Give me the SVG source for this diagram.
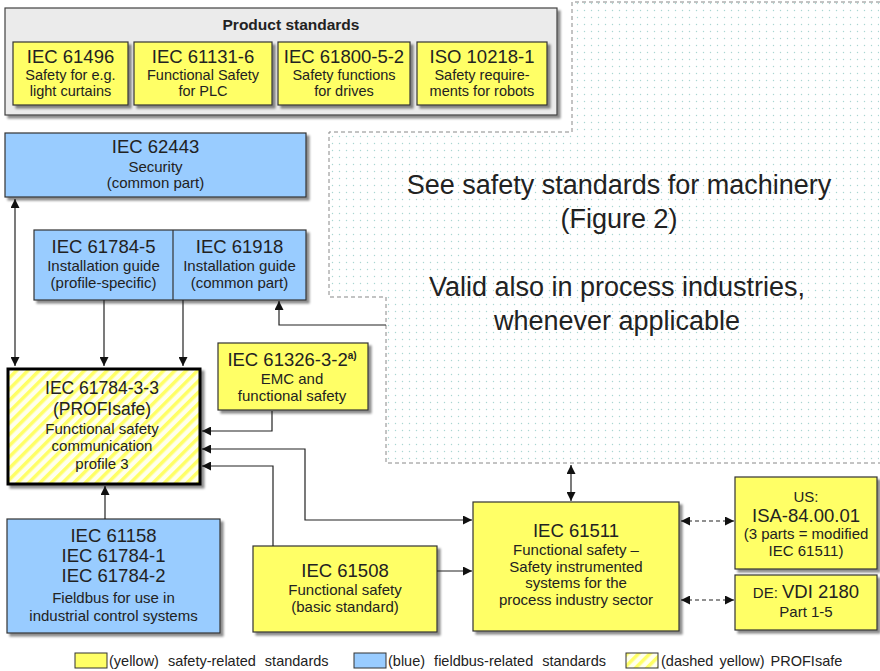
<svg xmlns="http://www.w3.org/2000/svg" width="880" height="671" viewBox="0 0 880 671">
<defs>
<style>
text{font-family:"Liberation Sans",Arial,sans-serif;fill:#222;text-anchor:middle}
.h{font-size:18.5px}
.s{font-size:15px}
.p{font-size:14.5px}
.big{font-size:27px}
.yel{fill:#ffff66;stroke:#333;stroke-width:1.2}
.blu{fill:#99ccff;stroke:#333;stroke-width:1.2}
.con{fill:none;stroke:#222;stroke-width:1.2}
.dash{fill:none;stroke:#222;stroke-width:1.2;stroke-dasharray:4,3}
.leg{font-size:14.5px;text-anchor:start;word-spacing:5px}
</style>
<filter id="sh" x="-10%" y="-10%" width="130%" height="130%">
<feDropShadow dx="3" dy="3" stdDeviation="1.2" flood-color="#000" flood-opacity="0.45"/>
</filter>
<pattern id="dots" width="7" height="7" patternUnits="userSpaceOnUse">
<rect width="7" height="7" fill="#ffffff"/>
<circle cx="3.5" cy="3.5" r="0.7" fill="#a9d6d2"/>
</pattern>
<pattern id="hatch" width="8" height="8" patternUnits="userSpaceOnUse" patternTransform="rotate(45)">
<rect width="8" height="8" fill="#ffffee"/>
<rect width="3.5" height="8" fill="#ffff66"/>
</pattern>
<marker id="ah" viewBox="0 0 10 10" refX="10" refY="5" markerWidth="9" markerHeight="9" markerUnits="userSpaceOnUse" orient="auto-start-reverse">
<path d="M0,0 L10,5 L0,10 Z" fill="#111"/>
</marker>
</defs>
<rect width="880" height="671" fill="#ffffff"/>

<g id="machinery">
<path d="M572,2 H879 V463 H386 V297 H329 V132 H572 Z" fill="url(#dots)" stroke="none"/>
<path d="M880,2 H572 V132 H329 V297 H386 V463 H880" fill="none" stroke="#888" stroke-width="1" stroke-dasharray="4,3"/>
<text class="big" x="619" y="194">See safety standards for machinery</text>
<text class="big" x="619" y="228">(Figure 2)</text>
<text class="big" x="617" y="296">Valid also in process industries,</text>
<text class="big" x="617" y="330">whenever applicable</text>
</g>

<g id="product-standards">
<rect x="5" y="8" width="552" height="107" fill="#ebebeb" stroke="#404040" stroke-width="1.2" filter="url(#sh)"/>
<text x="291" y="30" style="font-size:15.5px;font-weight:bold">Product standards</text>
</g>
<g id="iec61496">
<rect class="yel" x="13" y="42" width="115" height="63" filter="url(#sh)"/>
<text class="h" x="70.5" y="63">IEC 61496</text>
<text class="p" x="70.5" y="80">Safety for e.g.</text>
<text class="p" x="70.5" y="96">light curtains</text>
</g>
<g id="iec61131-6">
<rect class="yel" x="134" y="42" width="138" height="63" filter="url(#sh)"/>
<text class="h" x="203" y="63">IEC 61131-6</text>
<text class="p" x="203" y="80">Functional Safety</text>
<text class="p" x="203" y="96">for PLC</text>
</g>
<g id="iec61800-5-2">
<rect class="yel" x="278" y="42" width="132" height="63" filter="url(#sh)"/>
<text class="h" x="344" y="63">IEC 61800-5-2</text>
<text class="p" x="344" y="80">Safety functions</text>
<text class="p" x="344" y="96">for drives</text>
</g>
<g id="iso10218-1">
<rect class="yel" x="417" y="42" width="130" height="63" filter="url(#sh)"/>
<text class="h" x="482" y="63">ISO 10218-1</text>
<text class="p" x="482" y="80">Safety require-</text>
<text class="p" x="482" y="96">ments for robots</text>
</g>

<g id="iec62443">
<rect class="blu" x="5" y="133" width="301" height="64" filter="url(#sh)"/>
<text class="h" x="155.5" y="153">IEC 62443</text>
<text class="s" x="155.5" y="172">Security</text>
<text class="s" x="155.5" y="188">(common part)</text>
</g>

<g id="iec61784-5">
<rect class="blu" x="34" y="230" width="272" height="70" filter="url(#sh)"/>
<text class="h" x="103.5" y="253">IEC 61784-5</text>
<text class="s" x="103.5" y="271">Installation guide</text>
<text class="s" x="103.5" y="288">(profile-specific)</text>
</g>
<g id="iec61918">
<line x1="173" y1="230" x2="173" y2="300" stroke="#333" stroke-width="1.2"/>
<text class="h" x="239.5" y="253">IEC 61918</text>
<text class="s" x="239.5" y="271">Installation guide</text>
<text class="s" x="239.5" y="288">(common part)</text>
</g>

<g id="iec61326-3-2">
<rect class="yel" x="218" y="343" width="150" height="67" filter="url(#sh)"/>
<text class="h" x="292" y="366">IEC 61326-3-2<tspan style="font-size:10px;font-weight:bold" dy="-7">a)</tspan></text>
<text class="s" x="292" y="384">EMC and</text>
<text class="s" x="292" y="401">functional safety</text>
</g>

<g id="iec61784-3-3">
<rect x="8" y="369" width="192" height="115" fill="url(#hatch)" stroke="#000" stroke-width="3" filter="url(#sh)"/>
<text x="102" y="394" style="font-size:17.5px">IEC 61784-3-3</text>
<text x="102" y="415" style="font-size:17.5px">(PROFIsafe)</text>
<text class="s" x="102" y="434">Functional safety</text>
<text class="s" x="102" y="451">communication</text>
<text class="s" x="102" y="469">profile 3</text>
</g>

<g id="iec61158">
<rect class="blu" x="7" y="519" width="213" height="114" filter="url(#sh)"/>
<text class="h" x="113.5" y="542">IEC 61158</text>
<text class="h" x="113.5" y="562">IEC 61784-1</text>
<text class="h" x="113.5" y="582">IEC 61784-2</text>
<text class="s" x="113.5" y="603">Fieldbus for use in</text>
<text class="s" x="113.5" y="621">industrial control systems</text>
</g>

<g id="iec61508">
<rect class="yel" x="253" y="546" width="184" height="86" filter="url(#sh)"/>
<text class="h" x="345" y="577">IEC 61508</text>
<text class="s" x="345" y="595">Functional safety</text>
<text class="s" x="345" y="612">(basic standard)</text>
</g>

<g id="iec61511">
<rect class="yel" x="473" y="502" width="206" height="129" filter="url(#sh)"/>
<text class="h" x="576" y="537">IEC 61511</text>
<text class="s" x="576" y="555">Functional safety –</text>
<text class="s" x="576" y="572">Safety instrumented</text>
<text class="s" x="576" y="588">systems for the</text>
<text class="s" x="576" y="605">process industry sector</text>
</g>

<g id="us-isa">
<rect class="yel" x="735" y="477" width="142" height="92" filter="url(#sh)"/>
<text class="s" x="806" y="502">US:</text>
<text class="h" x="806" y="522">ISA-84.00.01</text>
<text class="s" x="806" y="539">(3 parts = modified</text>
<text class="s" x="806" y="556">IEC 61511)</text>
</g>

<g id="de-vdi">
<rect class="yel" x="735" y="575" width="142" height="55" filter="url(#sh)"/>
<text x="806" y="598"><tspan style="font-size:15px">DE: </tspan><tspan style="font-size:18.5px">VDI 2180</tspan></text>
<text class="s" x="806" y="617">Part 1-5</text>
</g>

<g id="connectors">
<line class="con" x1="15" y1="199" x2="15" y2="366" marker-start="url(#ah)" marker-end="url(#ah)"/>
<line class="con" x1="104" y1="300" x2="104" y2="366" marker-end="url(#ah)"/>
<line class="con" x1="183" y1="300" x2="183" y2="366" marker-end="url(#ah)"/>
<path class="con" d="M386,325 H279 V301" marker-end="url(#ah)"/>
<path class="con" d="M272,411 V431 H202" marker-end="url(#ah)"/>
<path class="con" d="M202,449 H305 V520 H472" marker-start="url(#ah)" marker-end="url(#ah)"/>
<path class="con" d="M273,546 V466 H202" marker-end="url(#ah)"/>
<line class="con" x1="105" y1="519" x2="105" y2="486" marker-end="url(#ah)"/>
<line class="con" x1="437" y1="571" x2="472" y2="571" marker-end="url(#ah)"/>
<line class="con" x1="571" y1="465" x2="571" y2="501" marker-start="url(#ah)" marker-end="url(#ah)"/>
<line class="dash" x1="681" y1="521" x2="734" y2="521" marker-start="url(#ah)" marker-end="url(#ah)"/>
<line class="dash" x1="681" y1="600" x2="734" y2="600" marker-start="url(#ah)" marker-end="url(#ah)"/>
</g>

<g id="legend">
<rect x="75" y="653" width="32" height="15" fill="#ffff66" stroke="#333" stroke-width="1"/>
<text class="leg" x="109" y="666">(yellow) safety-related standards</text>
<rect x="354" y="653" width="32" height="15" fill="#99ccff" stroke="#333" stroke-width="1"/>
<text class="leg" x="388" y="666">(blue) fieldbus-related standards</text>
<rect x="626" y="653" width="32" height="15" fill="url(#hatch)" stroke="#333" stroke-width="1"/>
<text class="leg" x="661" y="666" style="word-spacing:2px">(dashed yellow) PROFIsafe</text>
</g>
</svg>
